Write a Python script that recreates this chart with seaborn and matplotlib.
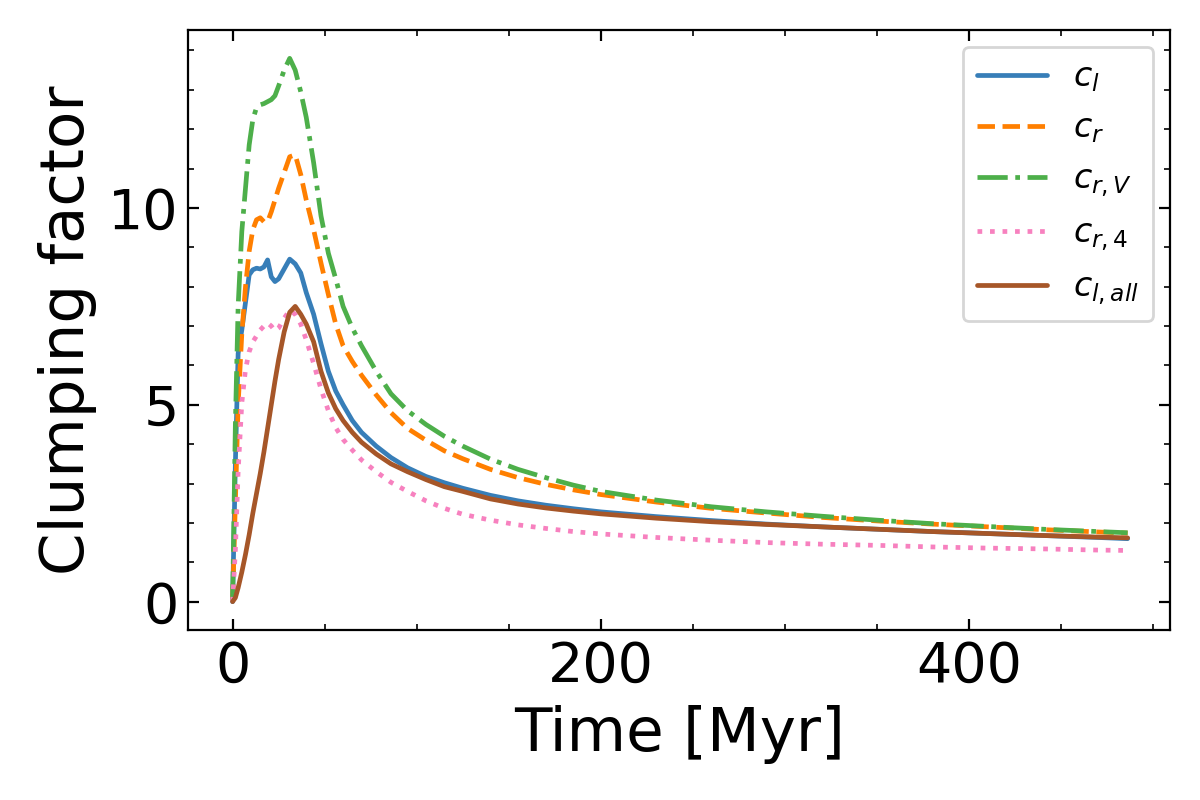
import numpy as np
import pandas as pd
import matplotlib
matplotlib.use("Agg")
import matplotlib.pyplot as plt
from matplotlib.ticker import MultipleLocator
import seaborn as sns

time = [0, 1.5, 3, 5, 7, 9, 11, 13, 15, 17, 19, 21, 23, 25, 28, 31, 34, 37, 40, 44,
        48, 52, 56, 60, 65, 70, 78, 86, 95, 105, 115, 125, 140, 155, 170, 185, 200,
        230, 260, 290, 320, 350, 380, 410, 440, 470, 486]

c_l = [0, 3.5, 6.3, 6.9, 7.6, 8.3, 8.43, 8.47, 8.45, 8.5, 8.68, 8.25, 8.13, 8.2, 8.45,
       8.7, 8.58, 8.35, 7.85, 7.3, 6.55, 5.85, 5.35, 5.0, 4.6, 4.3, 3.95, 3.66, 3.4,
       3.18, 3.02, 2.88, 2.7, 2.56, 2.45, 2.36, 2.28, 2.16, 2.06, 1.97, 1.9, 1.84,
       1.78, 1.73, 1.68, 1.63, 1.6]

c_r = [0, 2.5, 5.0, 6.8, 8.0, 8.9, 9.45, 9.7, 9.75, 9.65, 9.65, 9.9, 10.2, 10.5, 10.9,
       11.3, 11.35, 10.85, 10.2, 9.45, 8.6, 7.8, 7.05, 6.5, 6.1, 5.75, 5.25, 4.8, 4.4,
       4.1, 3.83, 3.63, 3.36, 3.15, 2.98, 2.84, 2.72, 2.53, 2.37, 2.25, 2.14, 2.05,
       1.97, 1.9, 1.83, 1.77, 1.74]

c_rV = [0, 4.5, 7.5, 9.4, 10.5, 11.6, 12.25, 12.55, 12.62, 12.65, 12.7, 12.75, 12.85,
        13.1, 13.5, 13.8, 13.5, 12.95, 12.3, 11.15, 9.8, 8.85, 8.2, 7.5, 6.95, 6.5,
        5.85, 5.28, 4.85, 4.5, 4.2, 3.95, 3.62, 3.36, 3.15, 2.96, 2.8, 2.58, 2.41,
        2.28, 2.17, 2.07, 1.98, 1.91, 1.84, 1.78, 1.75]

c_r4 = [0, 1.3, 3.3, 5.05, 5.9, 6.35, 6.6, 6.75, 6.9, 7.0, 7.08, 7.0, 6.88, 6.95, 7.2,
        7.4, 7.3, 7.05, 6.65, 6.05, 5.4, 4.85, 4.42, 4.12, 3.85, 3.6, 3.3, 3.03, 2.8,
        2.56, 2.37, 2.22, 2.07, 1.95, 1.86, 1.78, 1.72, 1.63, 1.56, 1.5, 1.46, 1.43,
        1.39, 1.36, 1.34, 1.31, 1.3]

c_l_all = [0, 0.1, 0.35, 0.75, 1.2, 1.7, 2.25, 2.75, 3.25, 3.8, 4.4, 5.0, 5.6, 6.15,
           6.85, 7.35, 7.5, 7.3, 7.05, 6.6, 5.85, 5.3, 4.9, 4.6, 4.3, 4.05, 3.75, 3.5,
           3.3, 3.1, 2.92, 2.8, 2.61, 2.48, 2.38, 2.3, 2.23, 2.12, 2.03, 1.96, 1.9,
           1.84, 1.78, 1.73, 1.68, 1.64, 1.62]

labels = [r"$c_l$", r"$c_r$", r"$c_{r,V}$", r"$c_{r,4}$", r"$c_{l,all}$"]
series = [c_l, c_r, c_rV, c_r4, c_l_all]
colors = ["#377eb8", "#ff7f00", "#4daf4a", "#f781bf", "#a65628"]
styles = ["-", "--", "-.", ":", "-"]

sns.set_style("ticks")
plt.rcParams["font.family"] = ["DejaVu Sans"]
plt.rcParams["mathtext.fontset"] = "dejavusans"
plt.rcParams["text.color"] = "black"
plt.rcParams["axes.labelcolor"] = "black"
plt.rcParams["xtick.color"] = "black"
plt.rcParams["ytick.color"] = "black"

fig = plt.figure(figsize=(6, 4), dpi=200)
ax = fig.add_axes([0.157, 0.2125, 0.818, 0.75])

for lab, ys, col, ls in zip(labels, series, colors, styles):
    df = pd.DataFrame({"t": time, "v": ys})
    sns.lineplot(data=df, x="t", y="v", ax=ax, color=col, linestyle=ls,
                 linewidth=1.7, label=lab)

ax.set_xlim(-24, 509)
ax.set_ylim(-0.72, 14.52)
ax.xaxis.set_major_locator(MultipleLocator(200))
ax.xaxis.set_minor_locator(MultipleLocator(50))
ax.yaxis.set_major_locator(MultipleLocator(5))
ax.yaxis.set_minor_locator(MultipleLocator(1))
ax.tick_params(which="both", direction="in", top=True, right=True, colors="black")
ax.tick_params(which="major", length=4, width=0.8, labelsize=20)
ax.tick_params(which="minor", length=2, width=0.6)
for s in ax.spines.values():
    s.set_color("black")
    s.set_linewidth(0.8)
ax.set_xlabel("Time [Myr]", fontsize=22, color="black")
ax.set_ylabel("Clumping factor", fontsize=22, color="black")
ax.legend(loc="upper right", fontsize=12, labelspacing=0.52, handlelength=2.1,
          borderpad=0.42, handletextpad=0.8)

fig.savefig("out.png", dpi=200)
